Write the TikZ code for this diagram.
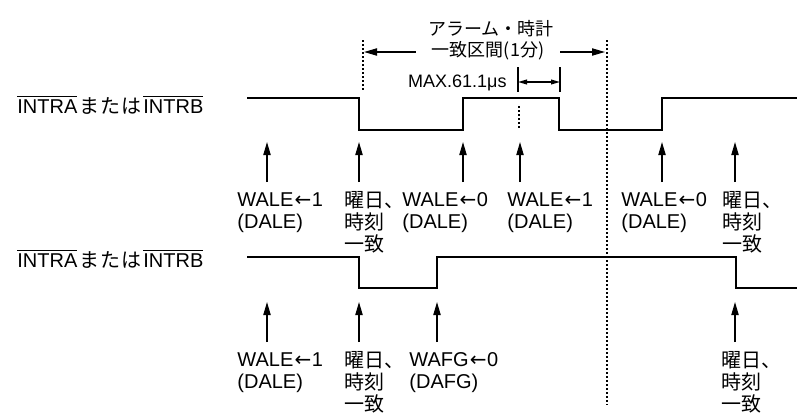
\documentclass[tikz,border=0pt]{standalone}
\usepackage{fontspec}
\setmainfont{Liberation Sans}
\newfontfamily\jpfont{Noto Sans CJK JP}
\newfontfamily\symfont{DejaVu Sans}
\newcommand{\setto}{{\symfont\kern0.6pt ←\kern0.3pt}}
\usetikzlibrary{arrows.meta}

\tikzset{
  wave/.style={line width=1.3pt, line join=miter},
  evarrow/.style={line width=0.7pt, -{Triangle[length=6.5pt,width=3.6pt]}},
  twoway/.style={line width=0.7pt, {Triangle[length=4.5pt,width=2.4pt]}-{Triangle[length=4.5pt,width=2.4pt]}},
  guide/.style={line width=0.6pt, dash pattern=on 1pt off 1pt},
  evlabel/.style={anchor=north west, inner sep=0pt, align=left, font=\fontsize{10}{11}\selectfont},
  jplabel/.style={evlabel, font=\jpfont\fontsize{10}{11}\selectfont},
  signame/.style={anchor=base west, inner sep=0pt, font=\fontsize{10}{11}\selectfont},
  toplabel/.style={inner sep=0pt, font=\fontsize{9}{11}\selectfont}
}

\begin{document}
\begin{tikzpicture}[x=0.5pt,y=-0.5pt]

    % Picture size in px (y grows downwards)
    \useasboundingbox (0,0) rectangle (797,412);

    % Signal levels of the two waveforms
    \pgfmathsetmacro{\hiA}{98}
    \pgfmathsetmacro{\loA}{130}
    \pgfmathsetmacro{\hiB}{257}
    \pgfmathsetmacro{\loB}{288}

    % Signal names
    \node[signame] (sigA) at (17,113) {$\overline{\mbox{INTRA}}${\jpfont\kern1pt ま\kern0.5ptた\kern0.5ptは\kern1pt}$\overline{\mbox{INTRB}}$};
    \node[signame] (sigB) at (17,267) {$\overline{\mbox{INTRA}}${\jpfont\kern1pt ま\kern0.5ptた\kern0.5ptは\kern1pt}$\overline{\mbox{INTRB}}$};

    % Draw the waveforms
    \draw[wave] (247,\hiA) -| (359,\loA) -| (463,\hiA) -| (559,\loA) -| (662,\hiA) -- (797,\hiA);
    \draw[wave] (247,\hiB) -| (359,\loB) -| (437,\hiB) -| (736,\loB) -- (797,\loB);

    % Dotted timing guides
    \draw[guide] (363,40) -- (363,92);
    \draw[guide] (607,40) -- (607,405);
    \draw[guide] (519,106) -- (519,130);

    % Alarm / clock match interval (1 minute)
    \node[toplabel, anchor=base] (alarm) at (491,35) {\jpfont アラーム・時計};
    \node[toplabel, anchor=base, inner xsep=8pt] (kukan) at (488,56) {\jpfont 一致区間(1分)};
    \coordinate (spanL) at (364,52);
    \coordinate (spanR) at (605,52);
    \draw[evarrow] (kukan.west |- spanL) -- (spanL);
    \draw[evarrow] (kukan.east |- spanR) -- (spanR);

    % Max. width of the high pulse
    \node[toplabel, anchor=base east] (maxw) at (507,87) {MAX.61.1μs};
    \draw[line width=0.7pt] (518,67) -- (518,92);
    \draw[line width=0.7pt] (560,67) -- (560,92);
    \coordinate (pulseL) at (518,82);
    \coordinate (pulseR) at (560,82);
    \draw[twoway] (pulseL) -- (pulseR);

    % Event arrows under the first waveform
    \foreach \x/\n in {267/a, 359/b, 463/c, 520/d, 662/e, 735/f}{
      \coordinate (tipA\n) at (\x,142);
      \coordinate (tailA\n) at (\x,182);
      \draw[evarrow] (tailA\n) -- (tipA\n);
    }

    % Event arrows under the second waveform
    \foreach \x/\n in {267/a, 359/b, 437/c, 735/d}{
      \coordinate (tipB\n) at (\x,302);
      \coordinate (tailB\n) at (\x,342);
      \draw[evarrow] (tailB\n) -- (tipB\n);
    }

    % Labels of the first row
    \node[evlabel] (lba) at (237,192) {WALE\setto1\\(DALE)};
    \node[jplabel] (lbb) at (344,191) {曜日、\\時刻\\一致};
    \node[evlabel] (lbc) at (402,192) {WALE\setto0\\(DALE)};
    \node[evlabel] (lbd) at (507,192) {WALE\setto1\\(DALE)};
    \node[evlabel] (lbe) at (621,192) {WALE\setto0\\(DALE)};
    \node[jplabel] (lbf) at (722,191) {曜日、\\時刻\\一致};

    % Labels of the second row
    \node[evlabel] (lca) at (237,352) {WALE\setto1\\(DALE)};
    \node[jplabel] (lcb) at (344,351) {曜日、\\時刻\\一致};
    \node[evlabel] (lcc) at (409,352) {WAFG\setto0\\(DAFG)};
    \node[jplabel] (lcd) at (721,351) {曜日、\\時刻\\一致};

  \end{tikzpicture}
\end{document}
